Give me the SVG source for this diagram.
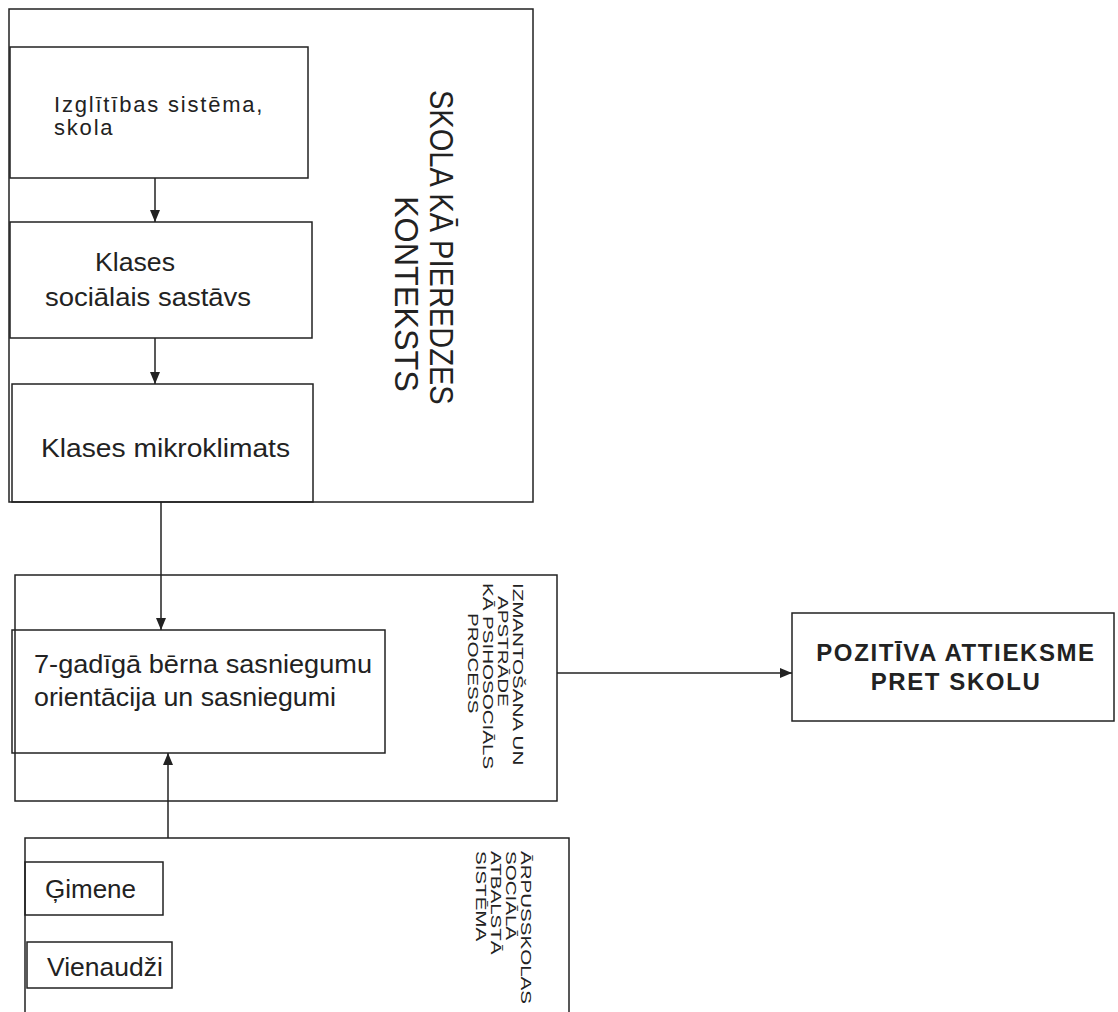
<svg xmlns="http://www.w3.org/2000/svg" width="1118" height="1012" viewBox="0 0 1118 1012">
<style>
rect, .frame { fill: none; stroke: #222; stroke-width: 1.5; }
.bg { fill: #fff; stroke: none; }
text { font-family: "Liberation Sans", Arial, sans-serif; fill: #222; }
.t { font-size: 26px; }
.s { font-size: 22px; letter-spacing: 1.8px; }
.v { font-size: 33px; }
.sm { font-size: 15px; }
.b { font-size: 24px; font-weight: bold; letter-spacing: 1.6px; }
.conn line { stroke: #222; stroke-width: 1.5; }
</style>
<defs>
<marker id="ah" markerUnits="userSpaceOnUse" markerWidth="12" markerHeight="10" viewBox="0 0 12 10" refX="12" refY="5" orient="auto">
<path d="M0,0 L12,5 L0,10 Z" fill="#222"/>
</marker>
</defs>
<rect class="bg" x="0" y="0" width="1118" height="1012"/>

<g id="school-context">
<rect x="9" y="9" width="524" height="493"/>
<text class="v" transform="translate(430,90) rotate(90) scale(0.88,1)">SKOLA KĀ PIEREDZES</text>
<text class="v" transform="translate(395,196) rotate(90) scale(0.98,1)">KONTEKSTS</text>
</g>

<g id="node-izglitibas">
<rect x="10" y="47" width="298" height="131"/>
<text class="s" x="54" y="112">Izglītības sistēma,</text>
<text class="s" x="54" y="135">skola</text>
</g>

<g id="node-klases-sastavs">
<rect x="10" y="222" width="302" height="116"/>
<text class="t" x="95" y="271" textLength="80" lengthAdjust="spacingAndGlyphs">Klases</text>
<text class="t" x="45" y="306" textLength="206" lengthAdjust="spacingAndGlyphs">sociālais sastāvs</text>
</g>

<g id="node-mikroklimats">
<rect x="12" y="384" width="301" height="118"/>
<text class="t" x="41" y="457" textLength="249" lengthAdjust="spacingAndGlyphs">Klases  mikroklimats</text>
</g>

<g id="process-context">
<rect x="15" y="575" width="542" height="226"/>
<g class="sm">
<text transform="translate(513,583) rotate(90) scale(1.37,1)">IZMANTOŠANA UN</text>
<text transform="translate(498,596) rotate(90) scale(1.37,1)">APSTRĀDE</text>
<text transform="translate(483,583) rotate(90) scale(1.37,1)">KĀ PSIHOSOCIĀLS</text>
<text transform="translate(468,613) rotate(90) scale(1.37,1)">PROCESS</text>
</g>
</g>

<g id="node-berna">
<rect x="12" y="630" width="373" height="123"/>
<text class="t" x="34" y="673" textLength="338" lengthAdjust="spacingAndGlyphs">7-gadīgā bērna sasniegumu</text>
<text class="t" x="34" y="706" textLength="302" lengthAdjust="spacingAndGlyphs">orientācija un sasniegumi</text>
</g>

<g id="node-pozitiva">
<rect x="792" y="613" width="322" height="108"/>
<text class="b" x="956" y="661" text-anchor="middle">POZITĪVA ATTIEKSME</text>
<text class="b" x="956" y="690" text-anchor="middle">PRET SKOLU</text>
</g>

<g id="support-context">
<path class="frame" d="M25,1013 L25,838 L569,838 L569,1013"/>
<g class="sm">
<text transform="translate(521,851) rotate(90) scale(1.37,1)">ĀRPUSSKOLAS</text>
<text transform="translate(506,851) rotate(90) scale(1.37,1)">SOCIĀLĀ</text>
<text transform="translate(491,851) rotate(90) scale(1.37,1)">ATBALSTĀ</text>
<text transform="translate(476,851) rotate(90) scale(1.37,1)">SISTĒMA</text>
</g>
</g>

<g id="node-gimene">
<rect x="25" y="862" width="138" height="53"/>
<text class="t" x="45" y="898" font-size="25">Ģimene</text>
</g>

<g id="node-vienaudzi">
<rect x="27" y="942" width="145" height="46"/>
<text class="t" x="47" y="976" textLength="116" lengthAdjust="spacingAndGlyphs">Vienaudži</text>
</g>

<g id="connectors" class="conn">
<line x1="155" y1="178" x2="155" y2="222" marker-end="url(#ah)"/>
<line x1="155" y1="338" x2="155" y2="384" marker-end="url(#ah)"/>
<line x1="161" y1="502" x2="161" y2="630" marker-end="url(#ah)"/>
<line x1="168" y1="838" x2="168" y2="753" marker-end="url(#ah)"/>
<line x1="557" y1="673" x2="792" y2="673" marker-end="url(#ah)"/>
</g>
</svg>
